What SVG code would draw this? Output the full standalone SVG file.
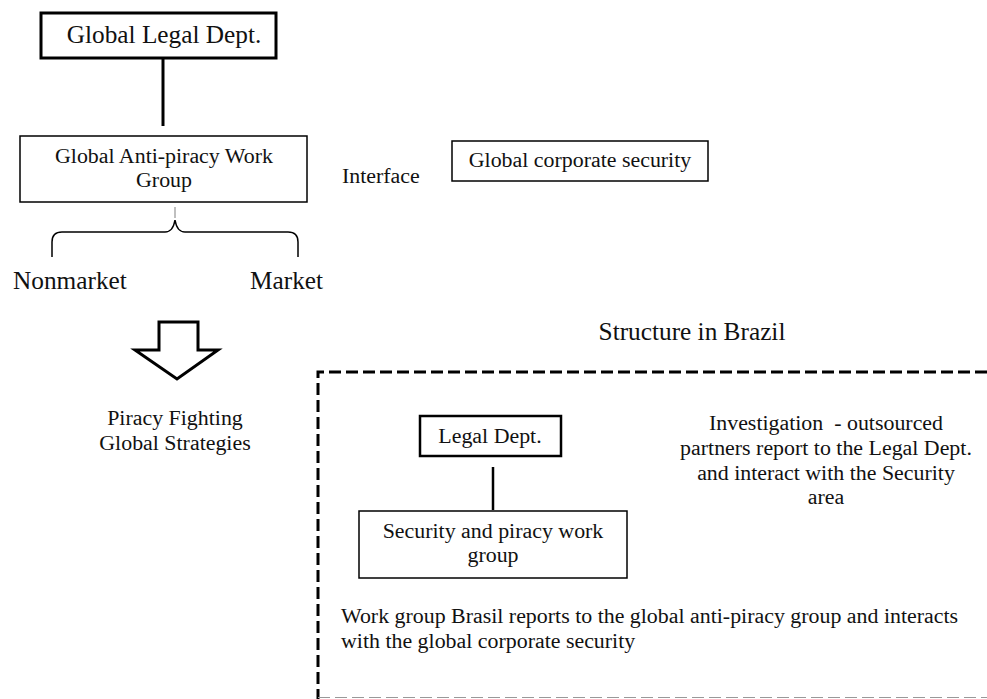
<svg xmlns="http://www.w3.org/2000/svg" width="987" height="699" viewBox="0 0 987 699">
<style>
text{font-family:"Liberation Serif","Times New Roman",serif;fill:#111;font-size:21.9px;}
.big{font-size:25.3px;}
.c{text-anchor:middle;}
.thick{fill:#fff;stroke:#000;stroke-width:3;}
.thin{fill:#fff;stroke:#000;stroke-width:1.5;}
.med{fill:#fff;stroke:#000;stroke-width:2.5;}
.ln{fill:none;stroke:#000;}
</style>
<rect width="987" height="699" fill="#fff"/>
<g id="connectors">
<line class="ln" x1="163" y1="58" x2="163" y2="126" stroke-width="3"/>
<line x1="175" y1="207" x2="175" y2="218" stroke="#aaa" stroke-width="1.5"/>
<path class="ln" stroke-width="1.5" d="M52,257 V242 Q52,232 62,232 H165 Q173,232 175,220 Q177,232 185,232 H288 Q298,232 298,242 V257"/>
<line class="ln" x1="493" y1="467" x2="493" y2="510" stroke-width="2.5"/>
</g>
<g id="global-legal">
<rect class="thick" x="41" y="13" width="235" height="45"/>
<text class="big c" x="164" y="43">Global Legal Dept.</text>
</g>
<g id="global-antipiracy">
<rect class="thin" x="20" y="136" width="287" height="66"/>
<text class="c" x="164" y="163">Global Anti-piracy Work</text>
<text class="c" x="164" y="187">Group</text>
</g>
<g id="interface">
<text x="342" y="183">Interface</text>
</g>
<g id="global-security">
<rect class="thin" x="452" y="141" width="256" height="40"/>
<text class="c" x="580" y="167">Global corporate security</text>
</g>
<g id="nonmarket">
<text class="big" x="13" y="289">Nonmarket</text>
</g>
<g id="market">
<text class="big" x="250" y="289">Market</text>
</g>
<g id="arrow">
<polygon points="159,322 198,322 198,350 218,350 177,379 135,350 159,350" fill="#fff" stroke="#000" stroke-width="3" stroke-linejoin="miter"/>
</g>
<g id="strategies">
<text class="c" x="175" y="425">Piracy Fighting</text>
<text class="c" x="175" y="450">Global Strategies</text>
</g>
<g id="brazil-structure">
<text class="big c" x="692" y="340">Structure in Brazil</text>
<path d="M987,372 H318 V699" fill="none" stroke="#000" stroke-width="3" stroke-dasharray="12,5"/>
<line x1="318" y1="697.5" x2="987" y2="697.5" stroke="#999" stroke-width="1.2" stroke-dasharray="12,5"/>
</g>
<g id="legal-dept">
<rect class="med" x="420" y="416" width="141" height="40"/>
<text class="c" x="490" y="443">Legal Dept.</text>
</g>
<g id="security-group">
<rect class="thin" x="359" y="511" width="268" height="67"/>
<text class="c" x="493" y="538">Security and piracy work</text>
<text class="c" x="493" y="562">group</text>
</g>
<g id="investigation">
<text class="c" x="826" y="430" xml:space="preserve">Investigation  - outsourced</text>
<text class="c" x="826" y="455">partners report to the Legal Dept.</text>
<text class="c" x="826" y="480">and interact with the Security</text>
<text class="c" x="826" y="504">area</text>
</g>
<g id="workgroup-note">
<text x="341" y="623">Work group Brasil reports to the global anti-piracy group and interacts</text>
<text x="341" y="648">with the global corporate security</text>
</g>
</svg>
